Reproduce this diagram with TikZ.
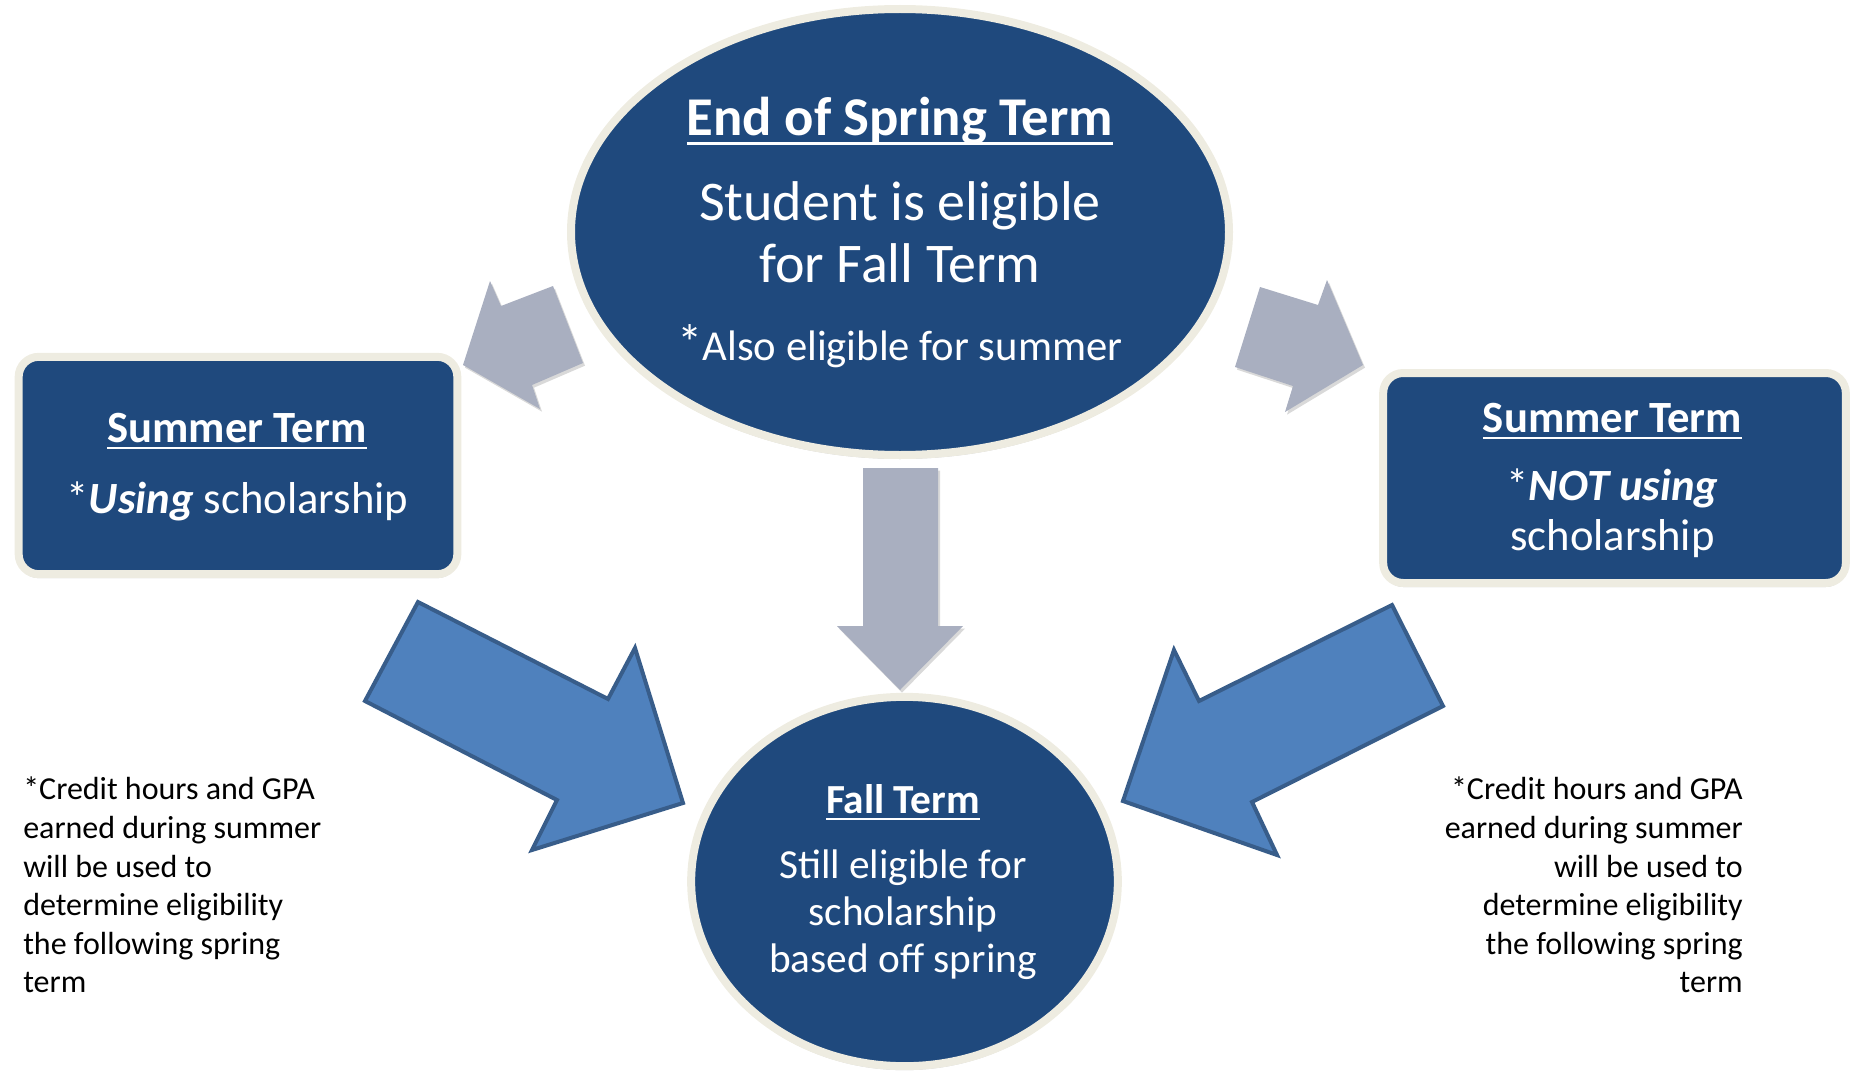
\documentclass[tikz,border=0pt]{standalone}
\usepackage{fontspec}
\setmainfont{Carlito}
\usetikzlibrary{shapes.geometric,shadows}

\definecolor{termblue}{RGB}{31,73,125}
\definecolor{rimcream}{RGB}{238,236,225}
\definecolor{stepgrey}{RGB}{169,175,192}
\definecolor{flowblue}{RGB}{79,129,189}
\definecolor{flowedge}{RGB}{56,93,138}

\newsavebox\termheadbox
\newcommand\termhead[1]{\sbox\termheadbox{#1}\rlap{\rule[-0.165em]{\wd\termheadbox}{0.05em}}\usebox\termheadbox}

\tikzset{
  term/.style={draw=rimcream, fill=termblue, line width=6pt, inner sep=0pt,
    drop shadow={shadow xshift=0pt, shadow yshift=-3pt, opacity=0.3, fill=black!60}},
  termbox/.style={term, rectangle, rounded corners=15pt},
  termoval/.style={term, ellipse},
  termtext/.style={text=white, inner sep=0pt, anchor=base},
  greystep/.style={fill=stepgrey,
    drop shadow={shadow xshift=1.5pt, shadow yshift=-2pt, opacity=0.25, fill=black!60}},
  bluestep/.style={fill=flowblue, draw=flowedge, line width=3pt, line join=miter},
  note/.style={inner sep=0pt, font=\fontsize{24}{28.9}\selectfont}
}

\begin{document}
\begin{tikzpicture}[x=0.75pt, y=-0.75pt]
  \useasboundingbox (0,0) rectangle (1853,1074);

  \node[termoval, minimum width=493.5pt, minimum height=334.5pt] (spring) at (900,232) {};
  \node[termbox, minimum width=329pt, minimum height=163pt] (usesummer) at (238,465.5) {};
  \node[termbox, minimum width=347pt, minimum height=157.5pt] (skipsummer) at (1614.5,478) {};
  \node[termoval, minimum width=320pt, minimum height=277pt] (fall) at (904.5,881.5) {};

  \fill[greystep] (553,286) -- (501,306) -- (490,281) -- (463,365) -- (540,409) -- (532,385) -- (583,363) -- cycle;
  \fill[greystep] (1260,287) -- (1318,305) -- (1327,280) -- (1363,365) -- (1285,412) -- (1293,386) -- (1235,367) -- cycle;
  \fill[greystep] (863,468) -- (938,468) -- (938,626) -- (963,626) -- (900,690) -- (837,626) -- (863,626) -- cycle;
  \draw[bluestep] (418,602) -- (608,699) -- (635,648) -- (683,803) -- (532,850) -- (557,800) -- (365,701) -- cycle;
  \draw[bluestep] (1392,605) -- (1443,706) -- (1252,802) -- (1277,855) -- (1123,801) -- (1174,650) -- (1199,701) -- cycle;

  \node[termtext, font=\fontsize{41}{46}\selectfont\bfseries] (springhead) at (900,136) {\termhead{End of Spring Term}};
  \node[termtext, font=\fontsize{42}{46}\selectfont] (springline1) at (900,220) {Student is eligible};
  \node[termtext, font=\fontsize{42}{46}\selectfont] (springline2) at (900,282) {for Fall Term};
  \node[termtext, font=\fontsize{32}{36}\selectfont] (springline3) at (900,360) {{\fontsize{38}{38}\selectfont*}Also eligible for summer};

  \node[termtext, font=\fontsize{33.5}{37}\selectfont\bfseries] (usehead) at (237,442) {\termhead{Summer Term}};
  \node[termtext, font=\fontsize{33.5}{37}\selectfont] (useline) at (237.5,513) {*\textbf{\textit{Using}} scholarship};

  \node[termtext, font=\fontsize{33.5}{37}\selectfont\bfseries] (skiphead) at (1612.5,432) {\termhead{Summer Term}};
  \node[termtext, font=\fontsize{33.5}{37}\selectfont] (skipline1) at (1612.5,500) {*\textbf{\textit{NOT using}}};
  \node[termtext, font=\fontsize{33.5}{37}\selectfont] (skipline2) at (1612.5,550) {scholarship};

  \node[termtext, font=\fontsize{31}{35}\selectfont\bfseries] (fallhead) at (903,813) {\termhead{Fall Term}};
  \node[termtext, font=\fontsize{31}{35}\selectfont] (fallline1) at (903,878) {Still eligible for};
  \node[termtext, font=\fontsize{31}{35}\selectfont] (fallline2) at (903,925) {scholarship};
  \node[termtext, font=\fontsize{31}{35}\selectfont] (fallline3) at (903,972) {based off spring};

  \node[note, anchor=north west, align=left] (leftnote) at (23,777)
    {*Credit hours and GPA\\earned during summer\\will be used to\\determine eligibility\\the following spring\\term};
  \node[note, anchor=north east, align=right] (rightnote) at (1743,777)
    {*Credit hours and GPA\\earned during summer\\will be used to\\determine eligibility\\the following spring\\term};
\end{tikzpicture}
\end{document}
